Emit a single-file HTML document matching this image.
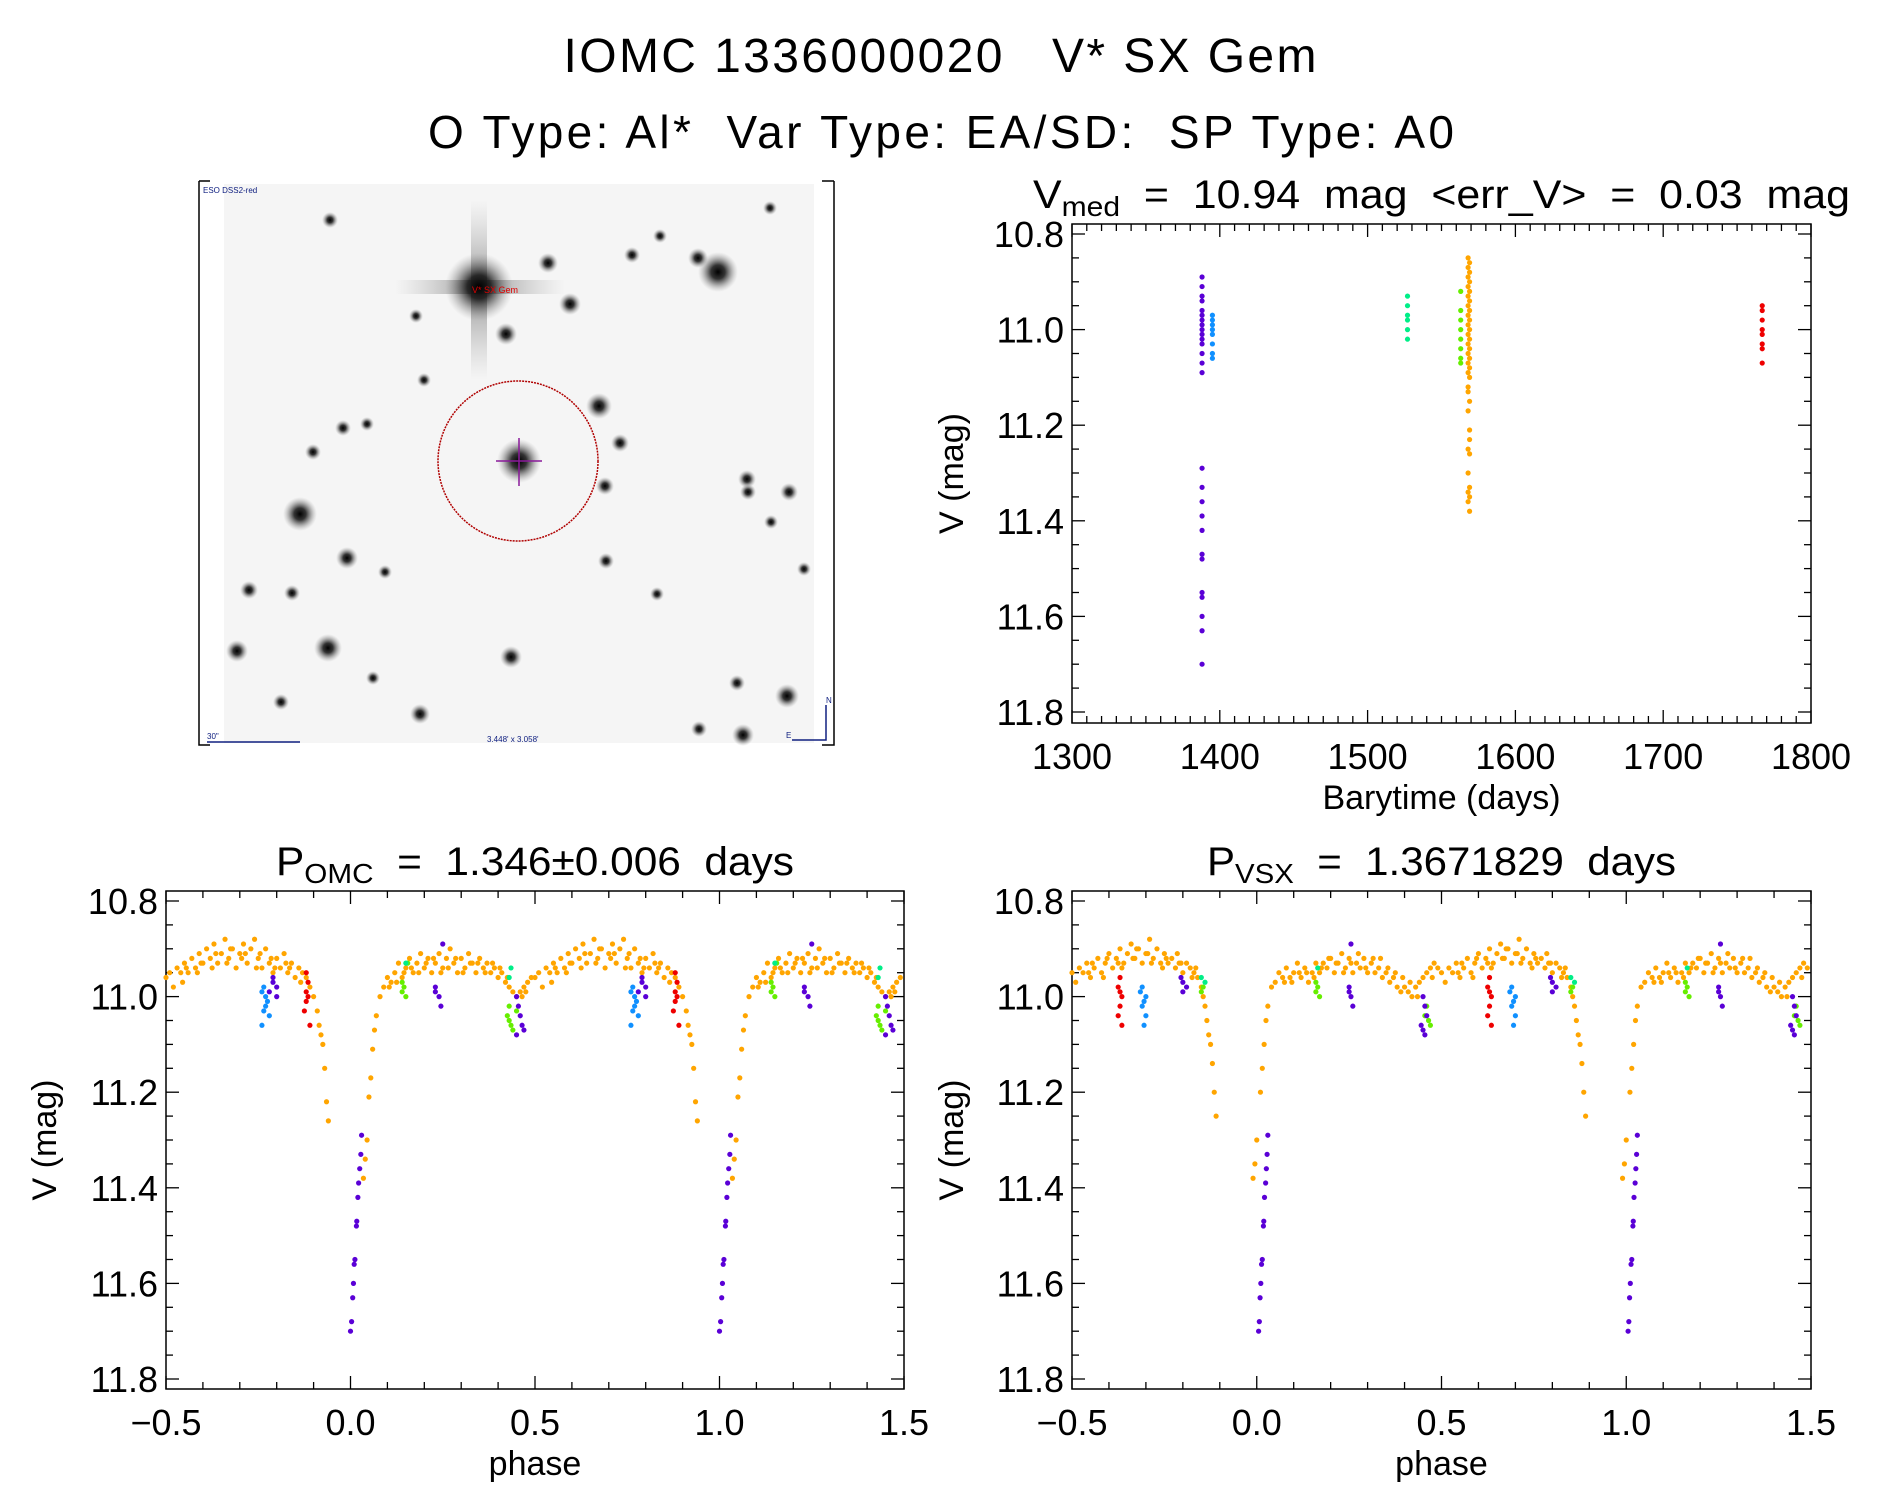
<!DOCTYPE html>
<html><head><meta charset="utf-8">
<style>
html,body{margin:0;padding:0;background:#fff;}
svg{display:block;font-family:"Liberation Sans",sans-serif;}
text{white-space:pre;}
</style></head>
<body>
<svg id="fig" width="1889" height="1494" viewBox="0 0 1889 1494">
<defs>
<radialGradient id="star"><stop offset="0" stop-color="#000" stop-opacity="1"/><stop offset="0.35" stop-color="#111" stop-opacity="0.85"/><stop offset="0.7" stop-color="#444" stop-opacity="0.35"/><stop offset="1" stop-color="#888" stop-opacity="0"/></radialGradient>
<linearGradient id="spikeV" x1="0" y1="0" x2="0" y2="1"><stop offset="0" stop-color="#999" stop-opacity="0"/><stop offset="0.5" stop-color="#555" stop-opacity="0.6"/><stop offset="1" stop-color="#999" stop-opacity="0"/></linearGradient>
<linearGradient id="spikeH" x1="0" y1="0" x2="1" y2="0"><stop offset="0" stop-color="#999" stop-opacity="0"/><stop offset="0.5" stop-color="#555" stop-opacity="0.6"/><stop offset="1" stop-color="#999" stop-opacity="0"/></linearGradient>
</defs>
<text x="940" y="72" font-size="48" text-anchor="middle" textLength="753">IOMC 1336000020   V* SX Gem</text>
<text x="941" y="148" font-size="46" text-anchor="middle" textLength="1026">O Type: Al*  Var Type: EA/SD:  SP Type: A0</text>

<g id="img">
<rect x="199" y="181" width="635" height="564" fill="#fff" stroke="none"/>
<rect x="224" y="184" width="590" height="559" fill="#f5f5f5"/>
<rect x="471" y="200" width="16" height="180" fill="url(#spikeV)"/>
<rect x="395" y="280" width="170" height="14" fill="url(#spikeH)"/>
<g id="stars"></g>
<circle cx="518" cy="461" r="80" fill="none" stroke="#b00000" stroke-width="1.5" stroke-dasharray="2 1"/>
<line x1="496" y1="461" x2="542" y2="461" stroke="#8a1a9a" stroke-width="1.5"/>
<line x1="519" y1="438" x2="519" y2="486" stroke="#8a1a9a" stroke-width="1.5"/>
<text x="472" y="293" font-size="9" fill="#e00000">V* SX Gem</text>
<text x="203" y="193" font-size="8" fill="#102080">ESO DSS2-red</text>
<text x="207" y="739" font-size="8" fill="#102080">30"</text>
<line x1="207" y1="742" x2="300" y2="742" stroke="#102080" stroke-width="1.5"/>
<text x="487" y="742" font-size="8" fill="#102080">3.448' x 3.058'</text>
<path d="M792 740 H826 V705" stroke="#102080" fill="none" stroke-width="1.5"/>
<text x="826" y="703" font-size="8" fill="#102080">N</text>
<text x="786" y="738" font-size="8" fill="#102080">E</text>
<path d="M199 181 H210 M199 181 V745 H210 M834 181 H822 M834 181 V745 H822" stroke="#000" stroke-width="1.5" fill="none"/>
</g>

<g id="p1"></g>
<g id="p2"></g>
<g id="p3"></g>
</svg>
<script>
const NS="http://www.w3.org/2000/svg";
// ---- sky image stars [x,y,r] (image positions, not chart data)
const starList=[[479,287,34],[718,272,20],[300,514,17],[328,648,14],[599,406,13],[506,334,11],[570,304,11],[548,263,10],[632,255,8],[698,258,10],[347,558,11],[511,657,11],[787,696,12],[420,714,10],[747,479,9],[789,492,9],[249,590,9],[237,651,11],[292,593,8],[699,729,8],[743,735,11],[281,702,8],[313,452,8],[620,443,9],[657,594,7],[804,569,7],[737,683,8],[385,572,7],[606,561,8],[343,428,8],[367,424,7],[748,492,8],[771,522,7],[373,678,7],[416,316,7],[519,461,22],[330,220,8],[424,380,7],[605,486,9],[660,236,7],[770,208,7]];
const sg=document.getElementById('stars');
starList.forEach(s=>{const c=document.createElementNS(NS,'circle');c.setAttribute('cx',s[0]);c.setAttribute('cy',s[1]);c.setAttribute('r',s[2]);c.setAttribute('fill','url(#star)');


sg.appendChild(c);});

// ---- colors
const COL={orange:'#ffa500',purple:'#5a00d6',blue:'#1090ff',red:'#ee0000',green:'#66ee00',cyan:'#00ee88'};

// ---- time-series data
const tPurpleT=[1388,1388,1388,1388,1388,1388,1388,1388,1388,1388,1388,1388,1388,1388,1388,1388,1388,1388,1388,1388,1388,1388,1388,1388,1388,1388,1388];
const tPurpleM=[10.89,10.91,10.93,10.94,10.96,10.97,10.98,10.99,11.0,11.01,11.02,11.03,11.05,11.07,11.09,11.29,11.33,11.36,11.39,11.42,11.47,11.48,11.55,11.56,11.6,11.63,11.7];
const tBlueT=[1395,1395,1395,1395,1395,1395,1395,1395];
const tBlueM=[10.97,10.98,10.99,11.0,11.01,11.03,11.05,11.06];
const tCyanT=[1527,1527,1527,1527,1527,1527];
const tCyanM=[10.93,10.95,10.97,10.98,11.0,11.02];
const tGreenT=[1563,1563,1563,1563,1563,1563,1563,1563];
const tGreenM=[10.92,10.96,10.98,11.0,11.02,11.04,11.06,11.07];
const tOrangeT=[1568,1569,1568,1569,1568,1569,1568,1569,1568,1569,1568,1569,1568,1569,1568,1569,1568,1569,1568,1569,1568,1569,1568,1569,1568,1569,1568,1569,1568,1569,1569,1568,1569,1568,1569,1568,1569,1568,1569,1568];
const tOrangeM=[10.85,10.86,10.87,10.88,10.89,10.9,10.91,10.92,10.93,10.94,10.95,10.96,10.97,10.98,10.99,11.0,11.01,11.02,11.03,11.04,11.05,11.06,11.07,11.08,11.09,11.1,11.13,11.15,11.17,11.21,11.23,11.25,11.26,11.3,11.33,11.34,11.35,11.36,11.38,11.12];
const tRedT=[1767,1767,1767,1767,1767,1767,1767,1767];
const tRedM=[10.95,10.96,10.98,11.0,11.01,11.03,11.04,11.07];

// ---- phase data (P_OMC), phase in [-0.5,0.5)
const oOrange=[[-0.5,10.96],[-0.49,10.95],[-0.48,10.98],[-0.47,10.94],[-0.46,10.95],[-0.45,10.93],[-0.44,10.95],[-0.43,10.92],[-0.42,10.94],[-0.41,10.91],[-0.4,10.93],[-0.39,10.9],[-0.38,10.92],[-0.37,10.89],[-0.36,10.93],[-0.35,10.91],[-0.34,10.88],[-0.33,10.92],[-0.32,10.9],[-0.31,10.94],[-0.3,10.91],[-0.29,10.89],[-0.28,10.93],[-0.27,10.9],[-0.26,10.88],[-0.25,10.92],[-0.24,10.94],[-0.23,10.9],[-0.22,10.93],[-0.21,10.95],[-0.2,10.92],[-0.19,10.94],[-0.18,10.91],[-0.17,10.95],[-0.16,10.93],[-0.15,10.96],[-0.14,10.94],[-0.13,10.95],[-0.12,10.96],[-0.11,10.98],[-0.1,11.0],[-0.09,11.03],[-0.085,11.06],[-0.08,11.08],[-0.075,11.1],[-0.07,11.15],[-0.065,11.22],[-0.06,11.26],
[0.035,11.38],[0.04,11.34],[0.045,11.3],[0.05,11.21],[0.055,11.17],[0.06,11.11],[0.065,11.07],[0.07,11.04],[0.08,11.0],[0.09,10.98],[0.1,10.96],[0.11,10.97],[0.12,10.95],[0.13,10.93],[0.14,10.96],[0.15,10.94],[0.16,10.92],[0.17,10.95],[0.18,10.93],[0.19,10.91],[0.2,10.94],[0.21,10.92],[0.22,10.95],[0.23,10.93],[0.24,10.91],[0.25,10.94],[0.26,10.92],[0.27,10.9],[0.28,10.93],[0.29,10.95],[0.3,10.92],[0.31,10.94],[0.32,10.91],[0.33,10.93],[0.34,10.95],[0.35,10.92],[0.36,10.94],[0.37,10.93],[0.38,10.95],[0.39,10.94],[0.4,10.96],[0.41,10.95],[0.42,10.97],[0.43,10.98],[0.44,10.99],[0.45,11.0],[0.46,10.99],[0.47,10.98],[0.48,10.97],[0.49,10.96],
[-0.455,10.97],[-0.415,10.95],[-0.375,10.94],[-0.335,10.93],[-0.295,10.92],[-0.255,10.94],[-0.215,10.92],[-0.175,10.93],[-0.135,10.97],[0.105,10.98],[0.145,10.95],[0.185,10.95],[0.225,10.92],[0.265,10.94],[0.305,10.95],[0.345,10.93],[0.385,10.93],[0.425,10.96],[0.465,11.0],
[-0.445,10.94],[-0.405,10.93],[-0.365,10.91],[-0.325,10.9],[-0.285,10.91],[-0.245,10.91],[-0.205,10.94],[-0.165,10.94],[0.125,10.97],[0.165,10.94],[0.205,10.93],[0.245,10.95],[0.285,10.92],[0.325,10.93],[0.365,10.95],[0.405,10.94],[0.475,10.99]];
const oPurple=[[0.03,11.29],[0.028,11.33],[0.025,11.36],[0.022,11.39],[0.02,11.42],[0.017,11.47],[0.016,11.48],[0.012,11.55],[0.01,11.56],[0.008,11.6],[0.006,11.63],[0.003,11.68],[0.0,11.7],[-0.21,10.96],[-0.21,10.97],[-0.2,10.98],[-0.2,11.0],[-0.22,10.99],[0.23,10.98],[0.23,10.99],[0.24,11.0],[0.245,11.02],[0.25,10.89],[0.45,11.0],[0.455,11.02],[0.46,11.04],[0.465,11.06],[0.47,11.07],[0.45,11.08]];
const oBlue=[[-0.235,10.98],[-0.24,10.99],[-0.23,11.0],[-0.225,11.01],[-0.23,11.02],[-0.235,11.03],[-0.22,11.04],[-0.24,11.06]];
const oRed=[[-0.12,10.95],[-0.115,10.97],[-0.12,10.99],[-0.115,11.0],[-0.12,11.01],[-0.125,11.03],[-0.11,11.06]];
const oGreen=[[0.14,10.97],[0.145,10.98],[0.14,10.99],[0.15,11.0],[0.155,10.93],[0.43,11.02],[0.425,11.04],[0.43,11.05],[0.435,11.06],[0.44,11.07],[0.45,11.03]];
const oCyan=[[0.15,10.93],[0.435,10.94],[0.43,10.96]];

// ---- phase data (P_VSX)
const vOrange=[[-0.5,10.95],[-0.49,10.97],[-0.48,10.94],[-0.47,10.95],[-0.46,10.93],[-0.45,10.96],[-0.44,10.94],[-0.43,10.92],[-0.42,10.95],[-0.41,10.93],[-0.4,10.91],[-0.39,10.94],[-0.38,10.92],[-0.37,10.9],[-0.36,10.93],[-0.35,10.91],[-0.34,10.89],[-0.33,10.92],[-0.32,10.9],[-0.31,10.93],[-0.3,10.91],[-0.29,10.88],[-0.28,10.92],[-0.27,10.9],[-0.26,10.93],[-0.25,10.91],[-0.24,10.93],[-0.23,10.92],[-0.22,10.94],[-0.21,10.93],[-0.2,10.95],[-0.19,10.93],[-0.18,10.94],[-0.17,10.95],[-0.16,10.96],[-0.15,10.98],[-0.145,11.0],[-0.14,11.02],[-0.135,11.05],[-0.13,11.08],[-0.125,11.1],[-0.12,11.14],[-0.115,11.2],[-0.11,11.25],
[-0.01,11.38],[-0.005,11.35],[0.0,11.3],[0.01,11.2],[0.015,11.15],[0.02,11.1],[0.025,11.05],[0.03,11.02],[0.04,10.98],[0.05,10.97],[0.06,10.95],[0.07,10.96],[0.08,10.94],[0.09,10.96],[0.1,10.95],[0.11,10.93],[0.12,10.96],[0.13,10.94],[0.14,10.97],[0.15,10.95],[0.16,10.93],[0.17,10.95],[0.18,10.93],[0.19,10.94],[0.2,10.92],[0.21,10.95],[0.22,10.93],[0.23,10.91],[0.24,10.94],[0.25,10.92],[0.26,10.95],[0.27,10.93],[0.28,10.94],[0.29,10.92],[0.3,10.95],[0.31,10.93],[0.32,10.95],[0.33,10.94],[0.34,10.96],[0.35,10.95],[0.36,10.97],[0.37,10.96],[0.38,10.98],[0.39,10.99],[0.4,10.98],[0.41,10.99],[0.42,11.0],[0.43,10.98],[0.44,10.97],[0.45,10.96],[0.46,10.95],[0.47,10.94],[0.48,10.93],[0.49,10.94],
[-0.455,10.95],[-0.415,10.96],[-0.375,10.93],[-0.335,10.92],[-0.295,10.91],[-0.255,10.94],[-0.215,10.91],[-0.175,10.96],[0.075,10.97],[0.115,10.95],[0.155,10.96],[0.195,10.92],[0.235,10.95],[0.275,10.91],[0.315,10.92],[0.355,10.94],[0.395,10.96],[0.435,11.0],[0.475,10.96],
[-0.445,10.93],[-0.405,10.92],[-0.365,10.94],[-0.325,10.9],[-0.285,10.93],[-0.245,10.92],[-0.205,10.93],[-0.165,10.94],[0.095,10.97],[0.135,10.95],[0.175,10.94],[0.215,10.93],[0.255,10.93],[0.295,10.94],[0.335,10.92],[0.375,10.95],[0.415,10.97]];
const vPurple=[[0.03,11.29],[0.028,11.33],[0.026,11.36],[0.024,11.39],[0.021,11.42],[0.019,11.47],[0.018,11.48],[0.015,11.55],[0.013,11.56],[0.011,11.6],[0.009,11.63],[0.007,11.68],[0.005,11.7],[-0.2,10.97],[-0.19,10.98],[-0.2,10.99],[-0.205,10.96],[0.25,10.98],[0.25,10.99],[0.255,11.0],[0.26,11.02],[0.255,10.89],[0.45,11.0],[0.455,11.02],[0.46,11.04],[0.445,11.06],[0.45,11.07],[0.455,11.08]];
const vBlue=[[-0.31,10.98],[-0.315,10.99],[-0.3,11.0],[-0.305,11.01],[-0.31,11.02],[-0.3,11.04],[-0.305,11.06]];
const vRed=[[-0.37,10.96],[-0.375,10.98],[-0.37,10.99],[-0.365,11.0],[-0.37,11.02],[-0.375,11.04],[-0.365,11.06]];
const vGreen=[[0.16,10.97],[0.165,10.98],[0.16,10.99],[0.17,11.0],[0.46,11.02],[0.455,11.04],[0.465,11.05],[0.47,11.06],[-0.15,10.99],[-0.145,10.98]];
const vCyan=[[-0.15,10.96],[-0.14,10.97],[0.165,10.94]];

// ---- ticks
const magTicks=['10.8','11.0','11.2','11.4','11.6','11.8'];
const timeTicks=['1300','1400','1500','1600','1700','1800'];
const phaseTicks=['\u22120.5','0.0','0.5','1.0','1.5'];
const magTickVals=[10.8,11.0,11.2,11.4,11.6,11.8];
const timeTickVals=[1300,1400,1500,1600,1700,1800];
const phaseTickVals=[-0.5,0,0.5,1.0,1.5];

function el(tag,attrs,parent){const e=document.createElementNS(NS,tag);for(const k in attrs)e.setAttribute(k,attrs[k]);parent.appendChild(e);return e;}

function makePanel(g,box,xr,yr,xTickVals,xTickLab,xMinor,yMinor,xlab,title,titleLen,ylabX){
  const sx=v=>box.l+(v-xr[0])/(xr[1]-xr[0])*(box.r-box.l);
  const sy=v=>box.y0+(v-yr[0])/(yr[1]-yr[0])*(box.y1-box.y0);
  const fr=el('rect',{x:box.l,y:box.t,width:box.r-box.l,height:box.b-box.t,fill:'none',stroke:'#000','stroke-width':1.5},g);
  
  
  for(let v=xr[0];v<=xr[1]+1e-9;v+=xMinor){
    const major=xTickVals.some(t=>Math.abs(t-v)<1e-6);const L=major?13:7;const x=sx(v);
    el('line',{x1:x,y1:box.b,x2:x,y2:box.b-L,stroke:'#000','stroke-width':1.3},g);
    el('line',{x1:x,y1:box.t,x2:x,y2:box.t+L,stroke:'#000','stroke-width':1.3},g);
  }
  for(let v=yr[0];v<=11.8+1e-9;v+=yMinor){
    const major=magTickVals.some(t=>Math.abs(t-v)<1e-6);const L=major?13:7;const y=sy(v);
    el('line',{x1:box.l,y1:y,x2:box.l+L,y2:y,stroke:'#000','stroke-width':1.3},g);
    el('line',{x1:box.r,y1:y,x2:box.r-L,y2:y,stroke:'#000','stroke-width':1.3},g);
  }
  xTickVals.forEach((v,i)=>{const t=el('text',{x:sx(v),y:box.b+46,'font-size':36,'text-anchor':'middle'},g);t.textContent=xTickLab[i];
    
    });
  magTickVals.forEach((v,i)=>{const t=el('text',{x:box.l-8,y:sy(v)+13,'font-size':36,'text-anchor':'end'},g);t.textContent=magTicks[i];
    
    });
  const xl=el('text',{x:(box.l+box.r)/2,y:box.b+86,'font-size':34,'text-anchor':'middle'},g);xl.textContent=xlab;
  
  
  const cy=(box.t+box.b)/2;
  const yl=el('text',{x:ylabX,y:cy,'font-size':34,'text-anchor':'middle',transform:`rotate(-90 ${ylabX} ${cy})`},g);yl.textContent='V (mag)';
  
  
  const tt=el('text',{x:(box.l+box.r)/2,y:box.t-16,'font-size':40,'text-anchor':'middle',textLength:titleLen,lengthAdjust:'spacingAndGlyphs'},g);
  tt.innerHTML=title;
  
  
  return {sx,sy};
}
function dots(g,xs,ys,color,name,ax){
  xs.forEach((x,i)=>{const c=el('circle',{cx:ax.sx(x),cy:ax.sy(ys[i]),r:2.6,fill:color},g);
    
    });
}
function phaseDots(g,arr,color,name,ax){
  arr.forEach(p=>{[0,1].forEach(k=>{const ph=p[0]+k;if(ph<-0.5||ph>1.5)return;
    const c=el('circle',{cx:ax.sx(ph),cy:ax.sy(p[1]),r:2.6,fill:color},g);
    
    });});
}
const g1=document.getElementById('p1');
const a1=makePanel(g1,{l:1072,r:1811,t:224,b:723,y0:234,y1:712},[1300,1800],[10.8,11.8],timeTickVals,timeTicks,10,0.05,'Barytime (days)',
 'V<tspan baseline-shift="-30%" font-size="28">med</tspan>  =  10.94  mag  &lt;err_V&gt;  =  0.03  mag',817,963);
dots(g1,tPurpleT,tPurpleM,COL.purple,'point-purple',a1);
dots(g1,tBlueT,tBlueM,COL.blue,'point-blue',a1);
dots(g1,tCyanT,tCyanM,COL.cyan,'point-cyan',a1);
dots(g1,tGreenT,tGreenM,COL.green,'point-green',a1);
dots(g1,tOrangeT,tOrangeM,COL.orange,'point-orange',a1);
dots(g1,tRedT,tRedM,COL.red,'point-red',a1);
const g2=document.getElementById('p2');
const a2=makePanel(g2,{l:166,r:904,t:891,b:1389,y0:901,y1:1379},[-0.5,1.5],[10.8,11.8],phaseTickVals,phaseTicks,0.1,0.05,'phase',
 'P<tspan baseline-shift="-30%" font-size="28">OMC</tspan>  =  1.346±0.006  days',518,56);
phaseDots(g2,oOrange,COL.orange,'point-orange',a2);
phaseDots(g2,oBlue,COL.blue,'point-blue',a2);
phaseDots(g2,oRed,COL.red,'point-red',a2);
phaseDots(g2,oGreen,COL.green,'point-green',a2);
phaseDots(g2,oCyan,COL.cyan,'point-cyan',a2);
phaseDots(g2,oPurple,COL.purple,'point-purple',a2);
const g3=document.getElementById('p3');
const a3=makePanel(g3,{l:1072,r:1811,t:891,b:1389,y0:901,y1:1379},[-0.5,1.5],[10.8,11.8],phaseTickVals,phaseTicks,0.1,0.05,'phase',
 'P<tspan baseline-shift="-30%" font-size="28">VSX</tspan>  =  1.3671829  days',469,963);
phaseDots(g3,vOrange,COL.orange,'point-orange',a3);
phaseDots(g3,vBlue,COL.blue,'point-blue',a3);
phaseDots(g3,vRed,COL.red,'point-red',a3);
phaseDots(g3,vGreen,COL.green,'point-green',a3);
phaseDots(g3,vCyan,COL.cyan,'point-cyan',a3);
phaseDots(g3,vPurple,COL.purple,'point-purple',a3);
</script>
</body></html>
